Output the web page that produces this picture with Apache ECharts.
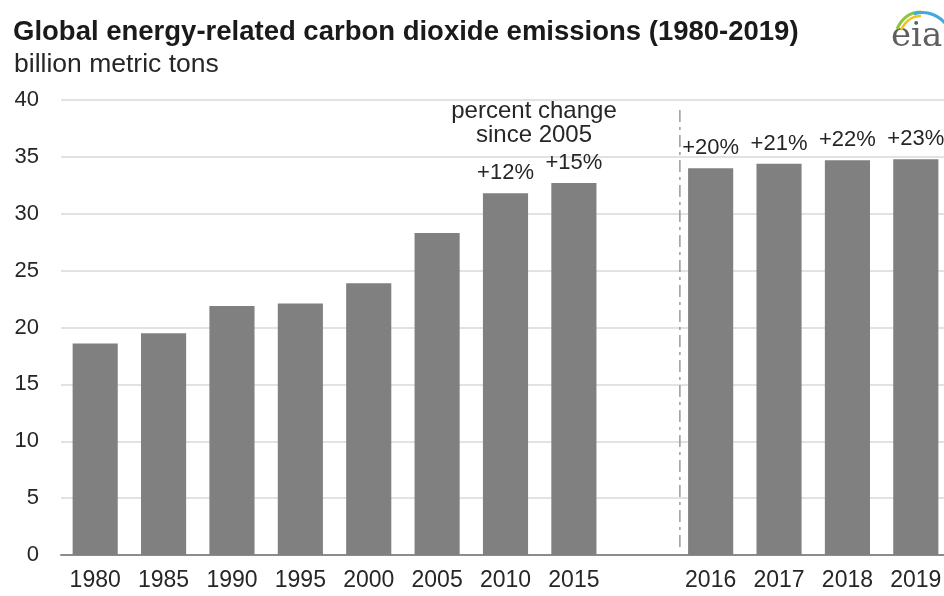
<!DOCTYPE html>
<html>
<head>
<meta charset="utf-8">
<title>Global energy-related carbon dioxide emissions (1980-2019)</title>
<script src="https://cdn.jsdelivr.net/npm/echarts@6/dist/echarts.min.js"></script>
<style>
  html, body { margin: 0; padding: 0; background: #ffffff; overflow: hidden; width: 944px; height: 596px; }
  /* the plot runs slightly past the right edge of the page */
  #chart { width: 950px; height: 596px; }
</style>
</head>
<body>
<div id="chart"></div>
<script>
// Years on the category axis; the blank entry separates the 5-year history from recent annual values
const years = ['1980', '1985', '1990', '1995', '2000', '2005', '2010', '2015', '', '2016', '2017', '2018', '2019'];
// Emissions, billion metric tons
const emissions = [18.6, 19.5, 21.9, 22.1, 23.9, 28.3, 31.8, 32.7, null, 34.0, 34.4, 34.7, 34.8];
// Percent change relative to 2005
const changeSince2005 = ['', '', '', '', '', '', '+12%', '+15%', '', '+20%', '+21%', '+22%', '+23%'];
// Value-axis ticks
const yTicks = [0, 5, 10, 15, 20, 25, 30, 35, 40];
// Divider between the two groups, in category-index units
const dividerX = 8.55;
const dividerSpan = [0.7, 39.2];

const chart = echarts.init(document.getElementById('chart'), null, { renderer: 'canvas' });

const textColor = '#262626';
const font = 'Liberation Sans, Arial, sans-serif';

const option = {
  animation: false,
  backgroundColor: '#ffffff',
  title: [
    {
      text: 'Global energy-related carbon dioxide emissions (1980-2019)',
      left: 8, top: 13,
      textStyle: { fontFamily: font, fontWeight: 'bold', fontSize: 27.5, color: '#1a1a1a' }
    },
    {
      text: 'billion metric tons',
      left: 9, top: 46,
      textStyle: { fontFamily: font, fontWeight: 'normal', fontSize: 26.5, color: textColor }
    }
  ],
  grid: { left: 61, right: 0, top: 100, bottom: 41, containLabel: false },
  xAxis: [
    {
      type: 'category',
      data: years,
      axisLine: { show: true, lineStyle: { color: '#8c8c8c', width: 2 } },
      axisTick: { show: false },
      axisLabel: { color: textColor, fontFamily: font, fontSize: 23, margin: 14, interval: 0 }
    },
    {
      type: 'value',
      min: -0.5, max: years.length - 0.5,
      show: false
    }
  ],
  yAxis: {
    type: 'value',
    min: yTicks[0], max: yTicks[yTicks.length - 1], interval: yTicks[1] - yTicks[0],
    axisLine: { show: false },
    axisTick: { show: false },
    splitLine: { show: true, lineStyle: { color: '#d9d9d9', width: 1.5 } },
    axisLabel: { color: textColor, fontFamily: font, fontSize: 22, margin: 22 }
  },
  series: [
    {
      type: 'bar',
      xAxisIndex: 0,
      data: emissions.map((v, i) => ({
        value: v,
        label: { show: !!changeSince2005[i], formatter: changeSince2005[i] }
      })),
      barWidth: '66%',
      itemStyle: { color: '#808080' },
      label: {
        position: 'top', distance: 9,
        color: textColor, fontFamily: font, fontSize: 22
      }
    },
    {
      type: 'line',
      xAxisIndex: 1,
      data: [[dividerX, dividerSpan[0]], [dividerX, dividerSpan[1]]],
      symbol: 'none',
      lineStyle: { color: '#9a9a9a', width: 1.5, type: [12, 5, 3, 5] },
      silent: true
    }
  ],
  graphic: [
    {
      type: 'text',
      x: 534, y: 99,
      style: {
        text: 'percent change',
        align: 'center',
        fill: textColor,
        font: '24px ' + font
      }
    },
    {
      type: 'text',
      x: 534, y: 123,
      style: {
        text: 'since 2005',
        align: 'center',
        fill: textColor,
        font: '24px ' + font
      }
    },
    // eia logo
    {
      type: 'text',
      x: 891, y: 20,
      style: { text: 'eia', fill: '#5f5f5f', font: '34px "DejaVu Serif", serif' }
    },
    {
      type: 'bezierCurve',
      shape: { x1: 897, y1: 29, x2: 921, y2: 12, cpx1: 903, cpy1: 16, cpx2: 912, cpy2: 12 },
      style: { stroke: '#8cc63f', lineWidth: 3, fill: null }
    },
    {
      type: 'bezierCurve',
      shape: { x1: 901, y1: 30, x2: 921, y2: 16, cpx1: 906, cpy1: 20, cpx2: 913, cpy2: 16 },
      style: { stroke: '#f2c21b', lineWidth: 2.5, fill: null }
    },
    {
      type: 'bezierCurve',
      shape: { x1: 914, y1: 14, x2: 948, y2: 27, cpx1: 927, cpy1: 10, cpx2: 940, cpy2: 15 },
      style: { stroke: '#3fa9e0', lineWidth: 3, fill: null }
    }
  ]
};

chart.setOption(option);
</script>
</body>
</html>
